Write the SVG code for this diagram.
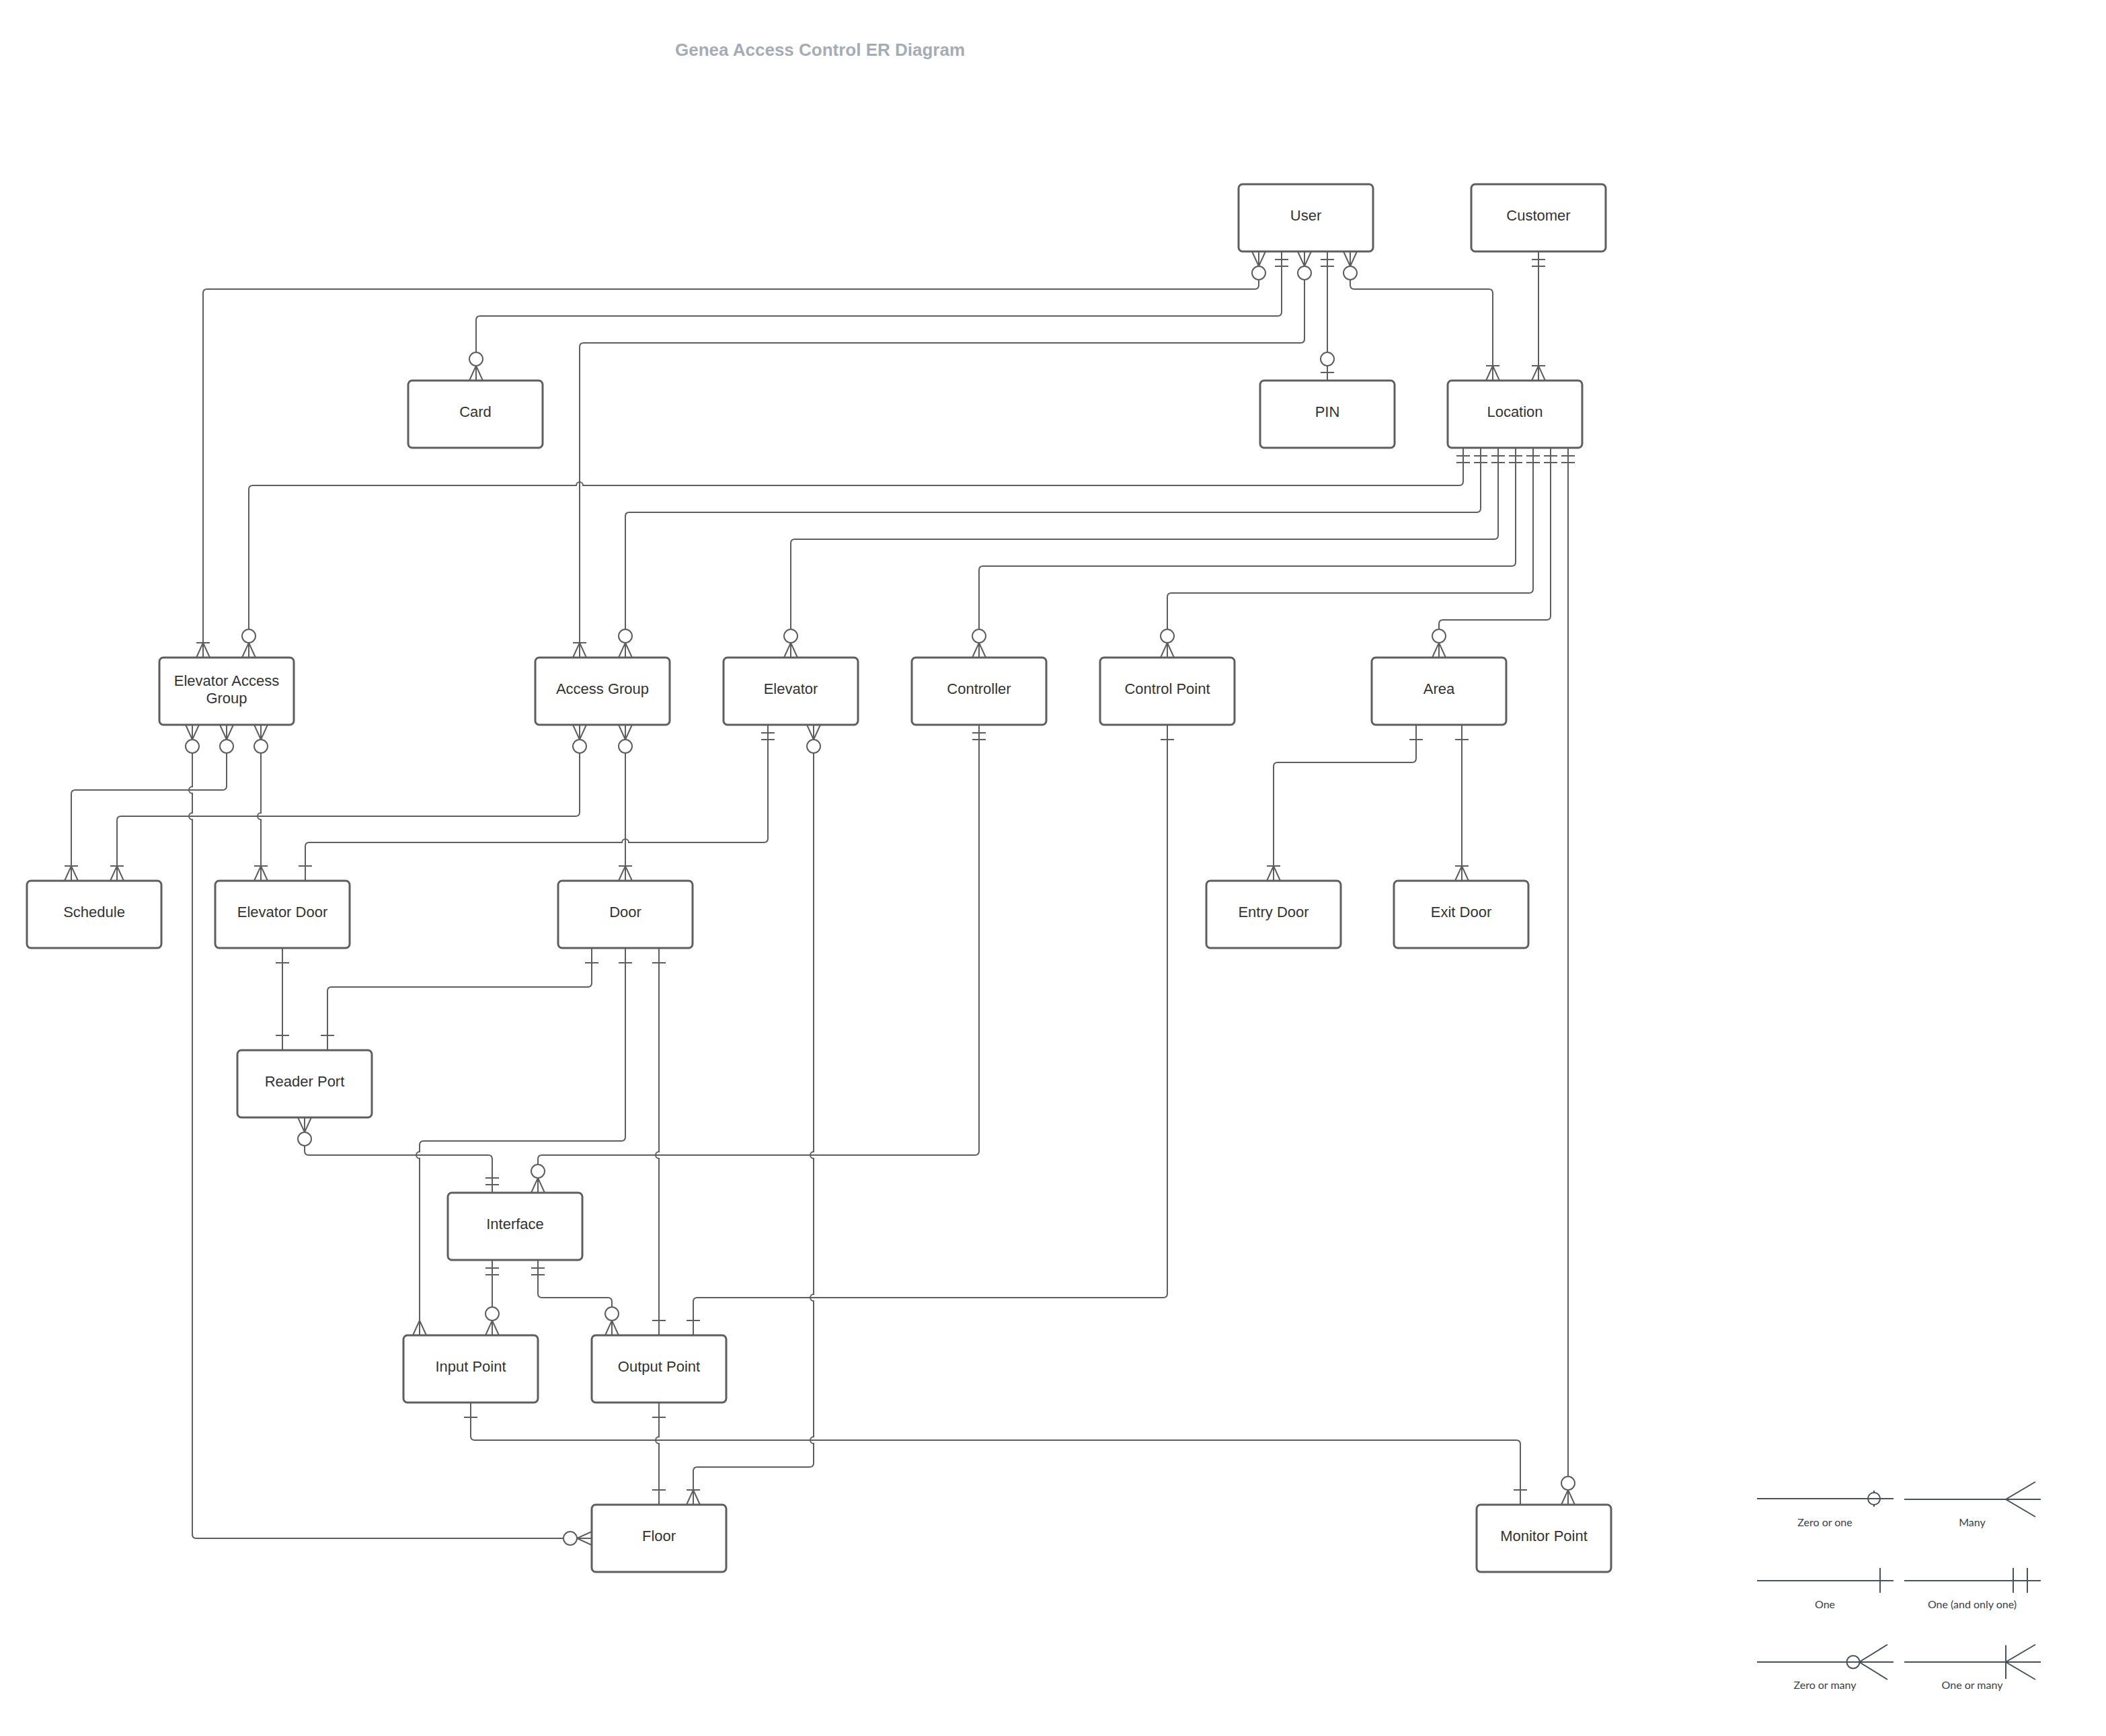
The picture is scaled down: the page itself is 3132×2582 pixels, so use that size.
<svg xmlns="http://www.w3.org/2000/svg" xmlns:xlink="http://www.w3.org/1999/xlink" width="3132" height="2582" viewBox="0 0 3132 2582">
<style>
.box{fill:#fff;stroke:#5e5e5e;stroke-width:3}
.lbl{font-family:"Liberation Sans",Arial,sans-serif;font-size:22px;fill:#333;text-anchor:middle}
.conn{fill:none;stroke:#5e5e5e;stroke-width:2}
.mk{fill:none;stroke:#5e5e5e;stroke-width:2}
.title{font-family:"Liberation Sans",Arial,sans-serif;font-size:26px;font-weight:bold;fill:#a6acb6}
.lg{fill:none;stroke:#49515b;stroke-width:2}
.lgt{font-family:Lato,"Liberation Sans",sans-serif;font-size:16px;fill:#3b4148;text-anchor:middle}
</style>
<defs>
<g id="m-one" class="mk"><line x1="-10" y1="-22" x2="10" y2="-22"/></g>
<g id="m-only" class="mk"><line x1="-10" y1="-12" x2="10" y2="-12"/><line x1="-10" y1="-22" x2="10" y2="-22"/></g>
<g id="m-many" class="mk"><path d="M-10 0 L0 -22 L10 0"/></g>
<g id="m-onemany" class="mk"><path d="M-10 0 L0 -22 L10 0"/><line x1="-10" y1="-22" x2="10" y2="-22"/></g>
<g id="m-zeromany" class="mk"><path d="M-10 0 L0 -22 L10 0"/><circle cx="0" cy="-32" r="10" fill="#fff"/></g>
<g id="m-zeroone" class="mk"><line x1="-10" y1="-12" x2="10" y2="-12"/><circle cx="0" cy="-32" r="10" fill="#fff"/></g>
</defs>
<rect width="3132" height="2582" fill="#fff"/>
<text class="title" x="1004" y="83">Genea Access Control ER Diagram</text>

<g id="connectors">
<path class="conn" d="M1872 374 V424 Q1872 430 1866 430 H308 Q302 430 302 436 V978"/>
<path class="conn" d="M1906 374 V464 Q1906 470 1900 470 H714 Q708 470 708 476 V566"/>
<path class="conn" d="M1940 374 V504 Q1940 510 1934 510 H868 Q862 510 862 516 V978"/>
<path class="conn" d="M1974 374 V566"/>
<path class="conn" d="M2008 374 V424 Q2008 430 2014 430 H2214 Q2220 430 2220 436 V566"/>
<path class="conn" d="M2288 374 V566"/>
<path class="conn" d="M2176 666 V716 Q2176 722 2170 722 H867 A5 5 0 0 0 857 722 H376 Q370 722 370 728 V978"/>
<path class="conn" d="M2202 666 V756 Q2202 762 2196 762 H936 Q930 762 930 768 V978"/>
<path class="conn" d="M2228 666 V796 Q2228 802 2222 802 H1182 Q1176 802 1176 808 V978"/>
<path class="conn" d="M2254 666 V836 Q2254 842 2248 842 H1462 Q1456 842 1456 848 V978"/>
<path class="conn" d="M2280 666 V876 Q2280 882 2274 882 H1742 Q1736 882 1736 888 V978"/>
<path class="conn" d="M2306 666 V916 Q2306 922 2300 922 H2146 Q2140 922 2140 928 V978"/>
<path class="conn" d="M2332 666 V2238"/>
<path class="conn" d="M286 1078 V1170 A5 5 0 0 0 286 1180 V1209 A5 5 0 0 0 286 1219 V2282 Q286 2288 292 2288 H880"/>
<path class="conn" d="M337 1078 V1169 Q337 1175 331 1175 H112 Q106 1175 106 1181 V1310"/>
<path class="conn" d="M388 1078 V1209 A5 5 0 0 0 388 1219 V1310"/>
<path class="conn" d="M862 1078 V1208 Q862 1214 856 1214 H180 Q174 1214 174 1220 V1310"/>
<path class="conn" d="M930 1078 V1310"/>
<path class="conn" d="M1142 1078 V1247 Q1142 1253 1136 1253 H935 A5 5 0 0 0 925 1253 H460 Q454 1253 454 1259 V1310"/>
<path class="conn" d="M1210 1078 V1713 A5 5 0 0 0 1210 1723 V1925 A5 5 0 0 0 1210 1935 V2137 A5 5 0 0 0 1210 2147 V2176 Q1210 2182 1204 2182 H1037 Q1031 2182 1031 2188 V2238"/>
<path class="conn" d="M1456 1078 V1712 Q1456 1718 1450 1718 H806 Q800 1718 800 1724 V1774"/>
<path class="conn" d="M1736 1078 V1924 Q1736 1930 1730 1930 H1037 Q1031 1930 1031 1936 V1986"/>
<path class="conn" d="M2106 1078 V1128 Q2106 1134 2100 1134 H1900 Q1894 1134 1894 1140 V1310"/>
<path class="conn" d="M2174 1078 V1310"/>
<path class="conn" d="M880 1410 V1462 Q880 1468 874 1468 H493 Q487 1468 487 1474 V1562"/>
<path class="conn" d="M930 1410 V1691 Q930 1697 924 1697 H630 Q624 1697 624 1703 V1713 A5 5 0 0 0 624 1723 V1986"/>
<path class="conn" d="M980 1410 V1713 A5 5 0 0 0 980 1723 V1986"/>
<path class="conn" d="M420 1410 V1562"/>
<path class="conn" d="M453 1662 V1712 Q453 1718 459 1718 H726 Q732 1718 732 1724 V1774"/>
<path class="conn" d="M732 1874 V1986"/>
<path class="conn" d="M800 1874 V1924 Q800 1930 806 1930 H904 Q910 1930 910 1936 V1986"/>
<path class="conn" d="M700 2086 V2136 Q700 2142 706 2142 H2255 Q2261 2142 2261 2148 V2238"/>
<path class="conn" d="M980 2086 V2137 A5 5 0 0 0 980 2147 V2238"/>

<!-- end symbols -->
<use href="#m-zeromany" transform="translate(1872 374) rotate(180)"/>
<use href="#m-only" transform="translate(1906 374) rotate(180)"/>
<use href="#m-zeromany" transform="translate(1940 374) rotate(180)"/>
<use href="#m-only" transform="translate(1974 374) rotate(180)"/>
<use href="#m-zeromany" transform="translate(2008 374) rotate(180)"/>
<use href="#m-only" transform="translate(2288 374) rotate(180)"/>
<use href="#m-zeromany" transform="translate(708 566)"/>
<use href="#m-zeroone" transform="translate(1974 566)"/>
<use href="#m-onemany" transform="translate(2220 566)"/>
<use href="#m-onemany" transform="translate(2288 566)"/>
<use href="#m-only" transform="translate(2176 666) rotate(180)"/>
<use href="#m-only" transform="translate(2202 666) rotate(180)"/>
<use href="#m-only" transform="translate(2228 666) rotate(180)"/>
<use href="#m-only" transform="translate(2254 666) rotate(180)"/>
<use href="#m-only" transform="translate(2280 666) rotate(180)"/>
<use href="#m-only" transform="translate(2306 666) rotate(180)"/>
<use href="#m-only" transform="translate(2332 666) rotate(180)"/>
<use href="#m-onemany" transform="translate(302 978)"/>
<use href="#m-zeromany" transform="translate(370 978)"/>
<use href="#m-onemany" transform="translate(862 978)"/>
<use href="#m-zeromany" transform="translate(930 978)"/>
<use href="#m-zeromany" transform="translate(1176 978)"/>
<use href="#m-zeromany" transform="translate(1456 978)"/>
<use href="#m-zeromany" transform="translate(1736 978)"/>
<use href="#m-zeromany" transform="translate(2140 978)"/>
<use href="#m-zeromany" transform="translate(286 1078) rotate(180)"/>
<use href="#m-zeromany" transform="translate(337 1078) rotate(180)"/>
<use href="#m-zeromany" transform="translate(388 1078) rotate(180)"/>
<use href="#m-zeromany" transform="translate(862 1078) rotate(180)"/>
<use href="#m-zeromany" transform="translate(930 1078) rotate(180)"/>
<use href="#m-only" transform="translate(1142 1078) rotate(180)"/>
<use href="#m-zeromany" transform="translate(1210 1078) rotate(180)"/>
<use href="#m-only" transform="translate(1456 1078) rotate(180)"/>
<use href="#m-one" transform="translate(1736 1078) rotate(180)"/>
<use href="#m-one" transform="translate(2106 1078) rotate(180)"/>
<use href="#m-one" transform="translate(2174 1078) rotate(180)"/>
<use href="#m-onemany" transform="translate(106 1310)"/>
<use href="#m-onemany" transform="translate(174 1310)"/>
<use href="#m-onemany" transform="translate(388 1310)"/>
<use href="#m-one" transform="translate(454 1310)"/>
<use href="#m-onemany" transform="translate(930 1310)"/>
<use href="#m-onemany" transform="translate(1894 1310)"/>
<use href="#m-onemany" transform="translate(2174 1310)"/>
<use href="#m-one" transform="translate(420 1410) rotate(180)"/>
<use href="#m-one" transform="translate(880 1410) rotate(180)"/>
<use href="#m-one" transform="translate(930 1410) rotate(180)"/>
<use href="#m-one" transform="translate(980 1410) rotate(180)"/>
<use href="#m-one" transform="translate(420 1562)"/>
<use href="#m-one" transform="translate(487 1562)"/>
<use href="#m-zeromany" transform="translate(453 1662) rotate(180)"/>
<use href="#m-only" transform="translate(732 1774)"/>
<use href="#m-zeromany" transform="translate(800 1774)"/>
<use href="#m-only" transform="translate(732 1874) rotate(180)"/>
<use href="#m-only" transform="translate(800 1874) rotate(180)"/>
<use href="#m-many" transform="translate(624 1986)"/>
<use href="#m-zeromany" transform="translate(732 1986)"/>
<use href="#m-zeromany" transform="translate(910 1986)"/>
<use href="#m-one" transform="translate(980 1986)"/>
<use href="#m-one" transform="translate(1031 1986)"/>
<use href="#m-one" transform="translate(700 2086) rotate(180)"/>
<use href="#m-one" transform="translate(980 2086) rotate(180)"/>
<use href="#m-one" transform="translate(980 2238)"/>
<use href="#m-onemany" transform="translate(1031 2238)"/>
<use href="#m-zeromany" transform="translate(880 2288) rotate(270)"/>
<use href="#m-one" transform="translate(2261 2238)"/>
<use href="#m-zeromany" transform="translate(2332 2238)"/>
</g>

<g id="n-user"><rect class="box" x="1842" y="274" width="200" height="100" rx="6"/><text class="lbl" x="1942" y="328">User</text></g>
<g id="n-customer"><rect class="box" x="2188" y="274" width="200" height="100" rx="6"/><text class="lbl" x="2288" y="328">Customer</text></g>
<g id="n-card"><rect class="box" x="607" y="566" width="200" height="100" rx="6"/><text class="lbl" x="707" y="620">Card</text></g>
<g id="n-pin"><rect class="box" x="1874" y="566" width="200" height="100" rx="6"/><text class="lbl" x="1974" y="620">PIN</text></g>
<g id="n-location"><rect class="box" x="2153" y="566" width="200" height="100" rx="6"/><text class="lbl" x="2253" y="620">Location</text></g>
<g id="n-elevator-access-group"><rect class="box" x="237" y="978" width="200" height="100" rx="6"/><text class="lbl" x="337" y="1020">Elevator Access</text><text class="lbl" x="337" y="1046">Group</text></g>
<g id="n-access-group"><rect class="box" x="796" y="978" width="200" height="100" rx="6"/><text class="lbl" x="896" y="1032">Access Group</text></g>
<g id="n-elevator"><rect class="box" x="1076" y="978" width="200" height="100" rx="6"/><text class="lbl" x="1176" y="1032">Elevator</text></g>
<g id="n-controller"><rect class="box" x="1356" y="978" width="200" height="100" rx="6"/><text class="lbl" x="1456" y="1032">Controller</text></g>
<g id="n-control-point"><rect class="box" x="1636" y="978" width="200" height="100" rx="6"/><text class="lbl" x="1736" y="1032">Control Point</text></g>
<g id="n-area"><rect class="box" x="2040" y="978" width="200" height="100" rx="6"/><text class="lbl" x="2140" y="1032">Area</text></g>
<g id="n-schedule"><rect class="box" x="40" y="1310" width="200" height="100" rx="6"/><text class="lbl" x="140" y="1364">Schedule</text></g>
<g id="n-elevator-door"><rect class="box" x="320" y="1310" width="200" height="100" rx="6"/><text class="lbl" x="420" y="1364">Elevator Door</text></g>
<g id="n-door"><rect class="box" x="830" y="1310" width="200" height="100" rx="6"/><text class="lbl" x="930" y="1364">Door</text></g>
<g id="n-entry-door"><rect class="box" x="1794" y="1310" width="200" height="100" rx="6"/><text class="lbl" x="1894" y="1364">Entry Door</text></g>
<g id="n-exit-door"><rect class="box" x="2073" y="1310" width="200" height="100" rx="6"/><text class="lbl" x="2173" y="1364">Exit Door</text></g>
<g id="n-reader-port"><rect class="box" x="353" y="1562" width="200" height="100" rx="6"/><text class="lbl" x="453" y="1616">Reader Port</text></g>
<g id="n-interface"><rect class="box" x="666" y="1774" width="200" height="100" rx="6"/><text class="lbl" x="766" y="1828">Interface</text></g>
<g id="n-input-point"><rect class="box" x="600" y="1986" width="200" height="100" rx="6"/><text class="lbl" x="700" y="2040">Input Point</text></g>
<g id="n-output-point"><rect class="box" x="880" y="1986" width="200" height="100" rx="6"/><text class="lbl" x="980" y="2040">Output Point</text></g>
<g id="n-floor"><rect class="box" x="880" y="2238" width="200" height="100" rx="6"/><text class="lbl" x="980" y="2292">Floor</text></g>
<g id="n-monitor-point"><rect class="box" x="2196" y="2238" width="200" height="100" rx="6"/><text class="lbl" x="2296" y="2292">Monitor Point</text></g>

<g id="legend">
<line class="lg" x1="2613" y1="2229" x2="2816" y2="2229"/>
<circle class="lg" cx="2787" cy="2229" r="9" fill="#fff"/>
<line class="lg" x1="2787" y1="2217" x2="2787" y2="2220"/>
<line class="lg" x1="2787" y1="2238" x2="2787" y2="2241"/>
<text class="lgt" x="2714" y="2270">Zero or one</text>
<line class="lg" x1="2832" y1="2230" x2="3035" y2="2230" stroke-width="3" stroke="#343b45"/>
<path class="lg" d="M3027 2204 L2983 2230 L3027 2256"/>
<text class="lgt" x="2933" y="2270">Many</text>
<line class="lg" x1="2613" y1="2351" x2="2816" y2="2351"/>
<line class="lg" x1="2796" y1="2332" x2="2796" y2="2369"/>
<text class="lgt" x="2714" y="2392">One</text>
<line class="lg" x1="2832" y1="2351" x2="3035" y2="2351"/>
<line class="lg" x1="2994" y1="2332" x2="2994" y2="2369"/>
<line class="lg" x1="3015" y1="2332" x2="3015" y2="2369"/>
<text class="lgt" x="2933" y="2392">One (and only one)</text>
<line class="lg" x1="2613" y1="2472" x2="2816" y2="2472"/>
<path class="lg" d="M2807 2446 L2765 2472 L2807 2498"/>
<circle class="lg" cx="2756" cy="2472" r="9.5" fill="#fff"/>
<text class="lgt" x="2714" y="2512">Zero or many</text>
<line class="lg" x1="2832" y1="2472" x2="3035" y2="2472"/>
<line class="lg" x1="2983" y1="2447" x2="2983" y2="2497"/>
<path class="lg" d="M3027 2446 L2983 2472 L3027 2498"/>
<text class="lgt" x="2933" y="2512">One or many</text>
</g>
</svg>
